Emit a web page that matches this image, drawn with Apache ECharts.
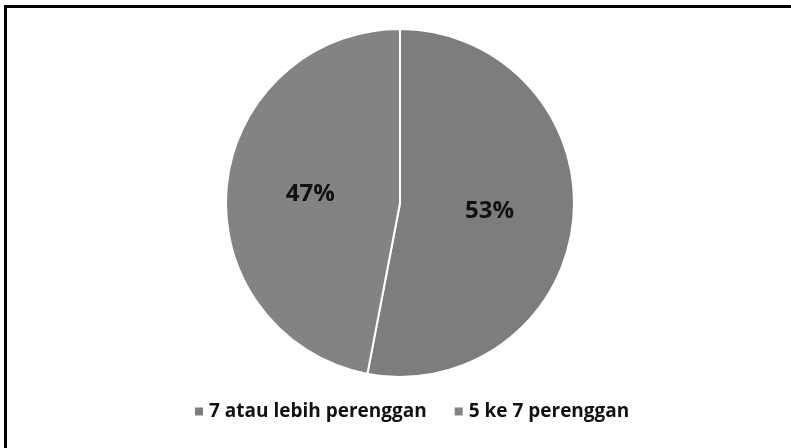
<!DOCTYPE html>
<html>
<head>
<meta charset="utf-8">
<title>Pie</title>
<script src="https://cdn.jsdelivr.net/npm/echarts@6/dist/echarts.min.js"></script>
<style>
    html, body { margin: 0; padding: 0; background: #fff; }
    #myChart { width: 791px; height: 448px; }
    .frame-top { position: absolute; left: 4px; top: 5px; width: 787px; height: 3px; background: #000; }
    .frame-left { position: absolute; left: 4px; top: 5px; width: 3px; height: 443px; background: #000; }
</style>
</head>
<body>
<div id="myChart"></div>
<div class="frame-top"></div>
<div class="frame-left"></div>
<script>
    var categories = ['7 atau lebih perenggan', '5 ke 7 perenggan'];
    var values = [53, 47];
    var colors = ['#7d7d7d', '#838383'];

    var chart = echarts.init(document.getElementById('myChart'));
    var pieData = [];
    for (var i = 0; i < categories.length; i++) {
        pieData.push({ name: categories[i], value: values[i], itemStyle: { color: colors[i] } });
    }
    var option = {
        animation: false,
        legend: {
            bottom: 22,
            left: 188,
            itemWidth: 10,
            itemHeight: 10,
            itemGap: 26,
            icon: 'rect',
            textStyle: {
                fontFamily: 'Open Sans',
                fontWeight: 'bold',
                fontSize: 19,
                color: '#111'
            },
            data: categories
        },
        series: [{
            type: 'pie',
            center: [400, 203],
            radius: 174,
            startAngle: 90,
            clockwise: true,
            data: pieData,
            itemStyle: { borderColor: '#fff', borderWidth: 2 },
            label: {
                position: 'inside',
                formatter: '{d}%',
                fontFamily: 'Open Sans',
                fontWeight: 'bold',
                fontSize: 24,
                color: '#111'
            },
            labelLine: { show: false },
            emphasis: { disabled: true }
        }]
    };
    chart.setOption(option);
</script>
</body>
</html>
